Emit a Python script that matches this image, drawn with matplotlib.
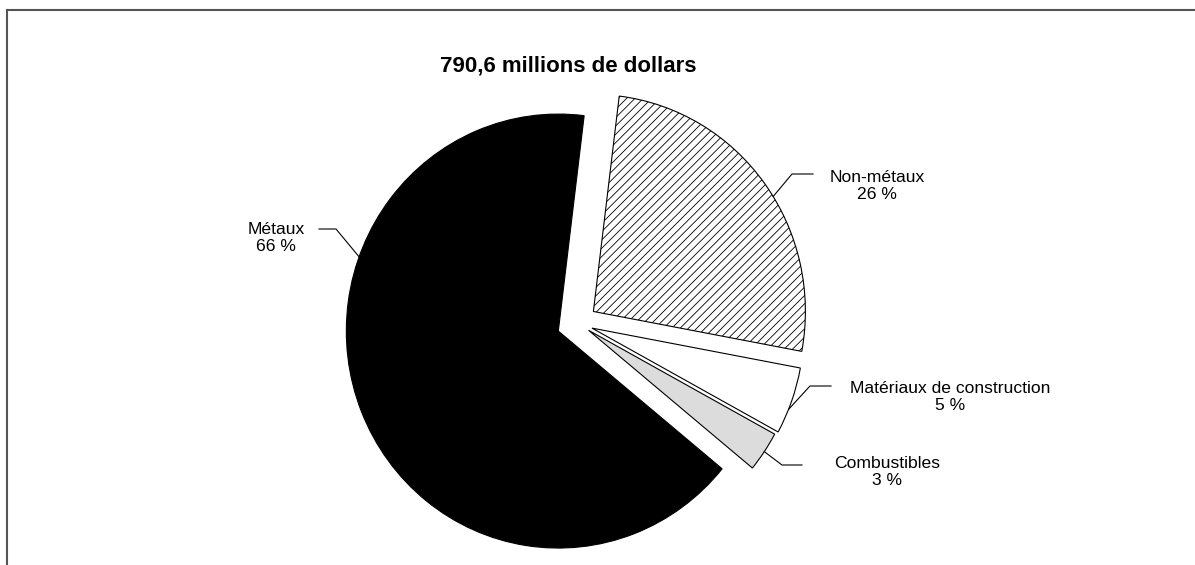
import numpy as np
import matplotlib
matplotlib.use('Agg')
import matplotlib.pyplot as plt
from matplotlib.lines import Line2D

# valeur des expéditions par groupe de minéraux (%)
labels = ['Non-métaux', 'Matériaux de construction', 'Combustibles', 'Métaux']
shares = [26, 5, 3, 66]
total = '790,6'

plt.rcParams['font.family'] = ['Liberation Sans', 'DejaVu Sans']
plt.rcParams['hatch.linewidth'] = 0.6

W, H = 1195, 565
cx, cy = 578, 323          # centre du camembert (pixels, origine en haut a gauche)
rx, ry = 212, 217          # rayon horizontal / vertical en pixels

fig = plt.figure(figsize=(W / 100, H / 100), dpi=100)
ax = fig.add_axes([0, 0, 1, 1])

def px(x, y):
    return ((x - cx) / rx, (cy - y) / ry)

wedges, _ = ax.pie(shares, explode=[0.09, 0.07, 0.06, 0.1], startangle=83,
                   counterclock=False,
                   colors=['white', 'white', '#dcdcdc', 'black'],
                   wedgeprops=dict(edgecolor='black', linewidth=0.8))
wedges[0].set_hatch('////')

ax.set_aspect('auto')
ax.set_xlim(-cx / rx, (W - cx) / rx)
ax.set_ylim(-(H - cy) / ry, cy / ry)
ax.axis('off')

# etiquettes et traits de rappel
text_pos = [(877, 186), (950, 397), (887, 472), (276, 238)]
leader = [((813, 174), (792, 174)), ((831, 386), (810, 386)),
          ((802, 465), (782, 465)), ((319, 229), (336, 229))]
anchor_deg = [32, -22, -34, 160]

for w, lab, v, tp, (p0, p1), a in zip(wedges, labels, shares, text_pos, leader, anchor_deg):
    t = np.radians(a)
    ex = w.center[0] + w.r * np.cos(t)
    ey = w.center[1] + w.r * np.sin(t)
    x0, y0 = px(*p0)
    x1, y1 = px(*p1)
    ax.plot([x0, x1, ex], [y0, y1, ey], color='black', lw=0.8)
    tx, ty = px(*tp)
    ax.text(tx, ty, f'{lab}\n{v} %', ha='center', va='center', fontsize=12.6,
            multialignment='center', linespacing=1.2)

tx, ty = px(568, 66)
ax.text(tx, ty, f'{total} millions de dollars', ha='center', va='center',
        fontsize=16, fontweight='bold')

# cadre
fig.add_artist(Line2D([7 / W, 7 / W], [0, 1 - 9.5 / H], transform=fig.transFigure,
                      color='#555555', lw=1.5))
fig.add_artist(Line2D([7 / W, 1], [1 - 9.5 / H, 1 - 9.5 / H], transform=fig.transFigure,
                      color='#555555', lw=1.5))

fig.savefig('out.png', dpi=100)
